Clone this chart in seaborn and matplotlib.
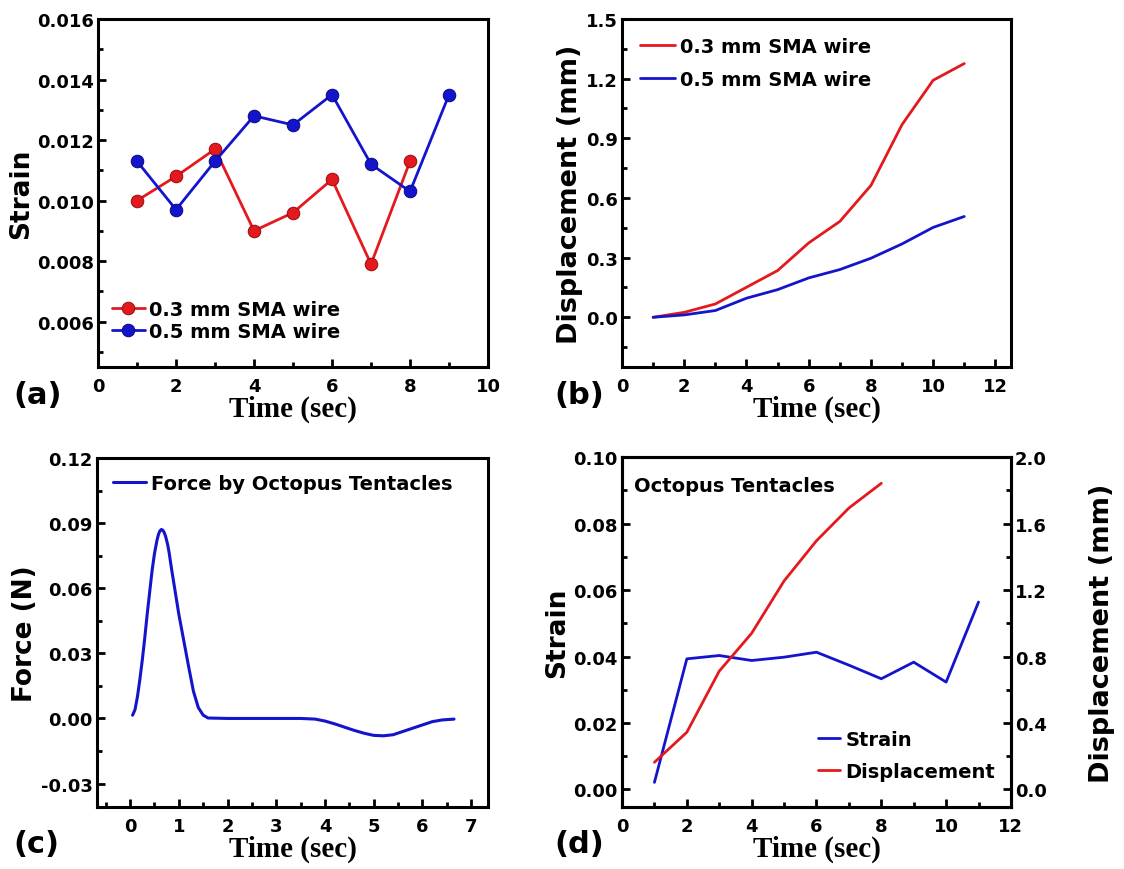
import seaborn as sns
import matplotlib.pyplot as plt
from matplotlib.ticker import MultipleLocator, FormatStrFormatter

# (a) strain vs time, two wire diameters
a_t03 = [1, 2, 3, 4, 5, 6, 7, 8]
a_s03 = [0.0100, 0.0108, 0.0117, 0.0090, 0.0096, 0.0107, 0.0079, 0.0113]
a_t05 = [1, 2, 3, 4, 5, 6, 7, 8, 9]
a_s05 = [0.0113, 0.0097, 0.0113, 0.0128, 0.0125, 0.0135, 0.0112, 0.0103, 0.0135]

# (b) displacement vs time
b_t = [1, 2, 3, 4, 5, 6, 7, 8, 9, 10, 11]
b_d03 = [0.0, 0.025, 0.067, 0.151, 0.235, 0.374, 0.482, 0.663, 0.969, 1.192, 1.276]
b_d05 = [0.0, 0.012, 0.034, 0.096, 0.139, 0.198, 0.240, 0.297, 0.369, 0.452, 0.507]

# (c) force by octopus tentacles
c_t = [0.05, 0.1, 0.15, 0.2, 0.25, 0.3, 0.35, 0.4, 0.45, 0.5, 0.55, 0.58, 0.61, 0.64,
       0.67, 0.7, 0.73, 0.77, 0.8, 0.85, 0.9, 0.95, 1.0, 1.1, 1.2, 1.3, 1.4, 1.5, 1.6,
       2.0, 2.5, 3.0, 3.5, 3.8, 4.0, 4.2, 4.4, 4.6, 4.8, 5.0, 5.2, 5.4, 5.6, 5.8, 6.0,
       6.2, 6.4, 6.65]
c_f = [0.0015, 0.004, 0.010, 0.018, 0.027, 0.037, 0.048, 0.058, 0.068, 0.076, 0.082,
       0.0847, 0.0864, 0.0871, 0.0868, 0.0857, 0.0838, 0.0802, 0.0765, 0.069, 0.062,
       0.055, 0.048, 0.036, 0.024, 0.0125, 0.005, 0.0015, 0.0002, 0.0, 0.0, 0.0, 0.0,
       -0.0003, -0.0012, -0.0025, -0.004, -0.0055, -0.0068, -0.0078, -0.008, -0.0075,
       -0.006, -0.0045, -0.003, -0.0015, -0.0007, -0.0003]

# (d) octopus tentacles strain + displacement
d_t_strain = [1, 2, 3, 4, 5, 6, 7, 8, 9, 10, 11]
d_strain = [0.0021, 0.0393, 0.0403, 0.0388, 0.0398, 0.0413, 0.0374, 0.0333, 0.0383, 0.0323, 0.0564]
d_t_disp = [1, 2, 3, 4, 5, 6, 7, 8]
d_disp = [0.163, 0.344, 0.712, 0.94, 1.255, 1.497, 1.694, 1.843]

RED = '#e3191e'
BLUE = '#1414cc'

sns.set_style('ticks')
plt.rcParams['font.family'] = ['DejaVu Sans']
plt.rcParams['font.weight'] = 'bold'
plt.rcParams['axes.labelweight'] = 'bold'
plt.rcParams['axes.linewidth'] = 2.0
for k in ['text.color', 'axes.labelcolor', 'xtick.color', 'ytick.color', 'axes.edgecolor']:
    plt.rcParams[k] = 'black'

fig = plt.figure(figsize=(11.24, 8.7), dpi=100)
ax_a = fig.add_axes([0.0872, 0.577, 0.347, 0.400])
ax_b = fig.add_axes([0.5534, 0.577, 0.346, 0.400])
ax_c = fig.add_axes([0.0863, 0.0713, 0.348, 0.401])
ax_d = fig.add_axes([0.5534, 0.0713, 0.346, 0.402])


def style(ax, xmaj, xmin, ymaj, ymin, yfmt):
    ax.xaxis.set_major_locator(MultipleLocator(xmaj))
    ax.xaxis.set_minor_locator(MultipleLocator(xmin))
    ax.yaxis.set_major_locator(MultipleLocator(ymaj))
    ax.yaxis.set_minor_locator(MultipleLocator(ymin))
    ax.yaxis.set_major_formatter(FormatStrFormatter(yfmt))
    ax.tick_params(which='major', direction='in', length=6, width=2, labelsize=13)
    ax.tick_params(which='minor', direction='in', length=3.5, width=2)
    ax.tick_params(axis='x', pad=7)
    ax.tick_params(axis='y', pad=3)
    for s in ax.spines.values():
        s.set_linewidth(2.2)
        s.set_visible(True)
    ax.set_xlabel('Time (sec)', fontfamily='Liberation Serif', fontsize=21,
                  fontweight='bold', labelpad=0)


# (a)
sns.lineplot(x=a_t03, y=a_s03, ax=ax_a, color=RED, marker='o', markersize=9,
             markeredgecolor='#9a0e10', linewidth=2, label='0.3 mm SMA wire')
sns.lineplot(x=a_t05, y=a_s05, ax=ax_a, color=BLUE, marker='o', markersize=9,
             markeredgecolor='#0a0a80', linewidth=2, label='0.5 mm SMA wire')
ax_a.set_xlim(0, 10)
ax_a.set_ylim(0.0045, 0.016)
style(ax_a, 2, 1, 0.002, 0.001, '%.3f')
ax_a.set_ylabel('Strain', fontsize=19, labelpad=2)
ax_a.legend(loc='lower left', frameon=False, fontsize=14, handlelength=1.7,
            handletextpad=0.2, labelspacing=0.15, borderaxespad=0.3,
            bbox_to_anchor=(0.0, 0.035))

# (b)
sns.lineplot(x=b_t, y=b_d03, ax=ax_b, color=RED, linewidth=2, label='0.3 mm SMA wire')
sns.lineplot(x=b_t, y=b_d05, ax=ax_b, color=BLUE, linewidth=2, label='0.5 mm SMA wire')
ax_b.set_xlim(0, 12.5)
ax_b.set_ylim(-0.25, 1.5)
style(ax_b, 2, 1, 0.3, 0.15, '%.1f')
ax_b.set_ylabel('Displacement (mm)', fontsize=19.5, labelpad=2)
ax_b.legend(loc='upper left', frameon=False, fontsize=14, handlelength=1.8,
            handletextpad=0.3, labelspacing=0.75, borderaxespad=0.5)

# (c)
sns.lineplot(x=c_t, y=c_f, ax=ax_c, color=BLUE, linewidth=2.2,
             label='Force by Octopus Tentacles')
ax_c.set_xlim(-0.68, 7.35)
ax_c.set_ylim(-0.0408, 0.12)
style(ax_c, 1, 0.5, 0.03, 0.015, '%.2f')
ax_c.set_ylabel('Force (N)', fontsize=19, labelpad=2)
ax_c.legend(loc='upper left', frameon=False, fontsize=14, handlelength=1.7,
            handletextpad=0.3, borderaxespad=0.4)

# (d)
ax_d2 = ax_d.twinx()
sns.lineplot(x=d_t_strain, y=d_strain, ax=ax_d, color=BLUE, linewidth=2,
             label='Strain', legend=False)
sns.lineplot(x=d_t_disp, y=d_disp, ax=ax_d2, color=RED, linewidth=2,
             label='Displacement', legend=False)
ax_d.set_xlim(0, 12)
ax_d.set_ylim(-0.0053, 0.10)
ax_d2.set_ylim(-0.106, 2.0)
style(ax_d, 2, 1, 0.02, 0.01, '%.2f')
ax_d2.yaxis.set_major_locator(MultipleLocator(0.4))
ax_d2.yaxis.set_minor_locator(MultipleLocator(0.2))
ax_d2.yaxis.set_major_formatter(FormatStrFormatter('%.1f'))
ax_d2.tick_params(which='major', direction='in', length=6, width=2, labelsize=13, pad=3)
ax_d2.tick_params(which='minor', direction='in', length=3.5, width=2)
for s in ax_d2.spines.values():
    s.set_linewidth(2.2)
ax_d.set_ylabel('Strain', fontsize=19, labelpad=2)
ax_d2.set_ylabel('Displacement (mm)', fontsize=19.5, labelpad=30)
h1, l1 = ax_d.get_legend_handles_labels()
h2, l2 = ax_d2.get_legend_handles_labels()
ax_d.legend(h1 + h2, l1 + l2, loc='lower right', frameon=False, fontsize=14,
            handlelength=1.1, handletextpad=0.3, labelspacing=0.65, borderaxespad=0.4,
            bbox_to_anchor=(1.0, 0.03))
ax_d.text(0.03, 0.92, 'Octopus Tentacles', transform=ax_d.transAxes, fontsize=14,
          fontweight='bold', va='center', ha='left')

# panel letters
for lbl, x, y in [('(a)', 0.012, 0.545), ('(b)', 0.493, 0.545),
                  ('(c)', 0.012, 0.029), ('(d)', 0.493, 0.029)]:
    fig.text(x, y, lbl, fontsize=22, fontweight='bold', va='center', ha='left')

fig.savefig('out.png', dpi=100)
